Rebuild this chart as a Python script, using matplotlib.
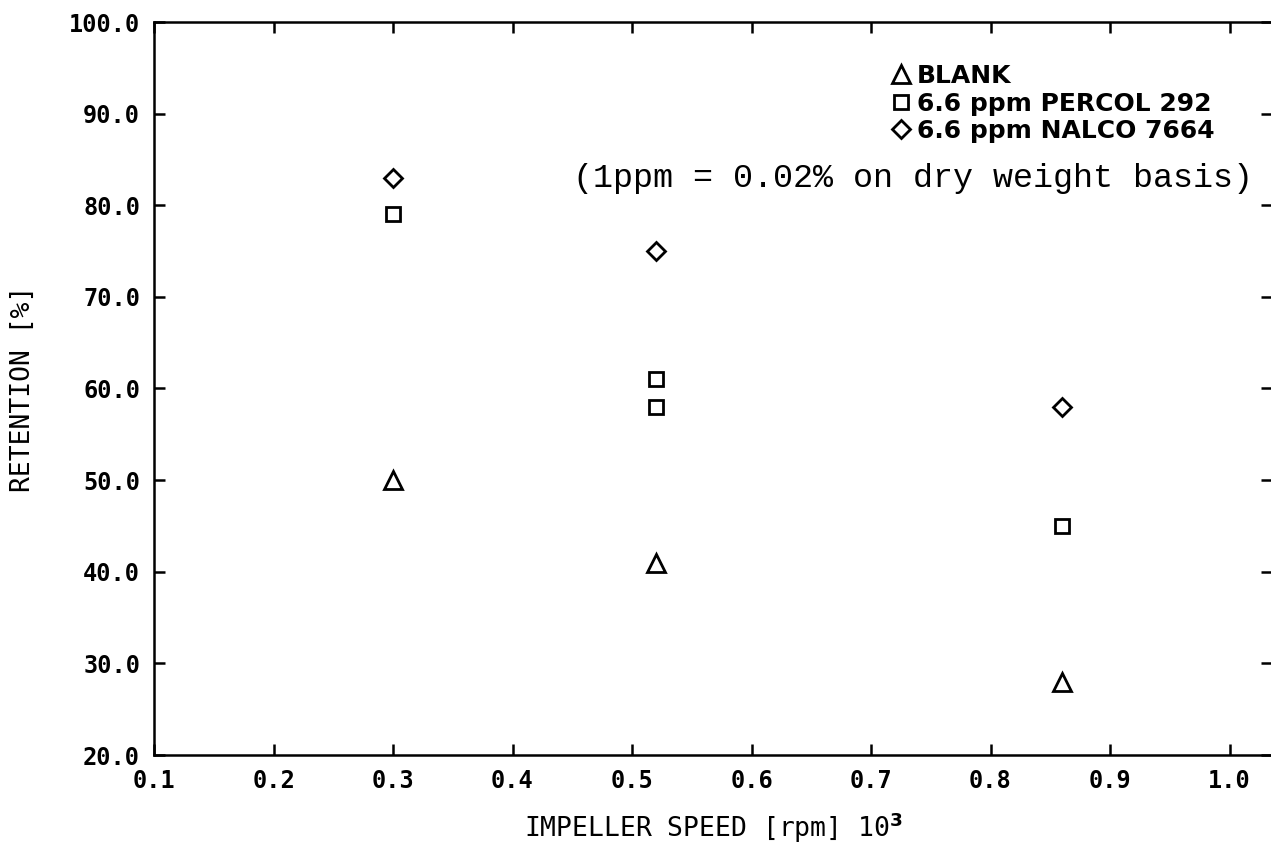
import numpy as np
import matplotlib.pyplot as plt

# data
speed_blank = [0.30, 0.52, 0.86]
ret_blank = [50.0, 41.0, 28.0]

speed_percol = [0.30, 0.52, 0.52, 0.86]
ret_percol = [79.0, 61.0, 58.0, 45.0]

speed_nalco = [0.30, 0.52, 0.86]
ret_nalco = [83.0, 75.0, 58.0]

labels = ['BLANK', '6.6 ppm PERCOL 292', '6.6 ppm NALCO 7664']
xticks = np.arange(0.1, 1.01, 0.1)
yticks = np.arange(20, 101, 10)

W, H = 1271, 847
fig = plt.figure(figsize=(W / 100, H / 100), dpi=100)
ax = fig.add_axes((154 / W, 92 / H, (1272 - 154) / W, (825 - 92) / H))

mk = dict(linestyle='none', mfc='none', mec='k', mew=2.0)
ax.plot(speed_blank, ret_blank, marker='^', ms=12.5, label=labels[0], **mk)
ax.plot(speed_percol, ret_percol, marker='s', ms=10, label=labels[1], **mk)
ax.plot(speed_nalco, ret_nalco, marker='D', ms=9.5, label=labels[2], **mk)

ax.set_xlim(0.1, 0.1 + (1272 - 154) / 1195)
ax.set_ylim(20, 100)
ax.set_xticks(xticks)
ax.set_yticks(yticks)
ax.set_xticklabels([f'{v:.1f}' for v in xticks])
ax.set_yticklabels([f'{v:.1f}' for v in yticks])

for lab in ax.get_xticklabels() + ax.get_yticklabels():
    lab.set_family('DejaVu Sans Mono')
    lab.set_fontweight('bold')
    lab.set_fontsize(17)

ax.tick_params(direction='in', length=8, width=1.8, top=True, right=True,
               pad=10)
ax.tick_params(axis='y', right=True, length=3)
ax.tick_params(axis='y', left=True, length=8)
for s in ax.spines.values():
    s.set_linewidth(1.8)

ax.set_xlabel('IMPELLER SPEED [rpm] 10$^\\mathbf{3}$', family='DejaVu Sans Mono',
              fontsize=19, labelpad=13)
ax.set_ylabel('RETENTION [%]', family='DejaVu Sans Mono', fontsize=19,
              labelpad=24)

leg = ax.legend(loc='upper left', bbox_to_anchor=(893 / W, 1 - 64 / H),
                bbox_transform=fig.transFigure, frameon=False,
                prop=dict(family='DejaVu Sans', weight='bold', size=18),
                handlelength=0.6, handletextpad=0.35, labelspacing=0.14,
                borderpad=0, borderaxespad=0)

fig.text(573 / W, 1 - 179 / H, '(1ppm = 0.02% on dry weight basis)',
         family='Liberation Mono', fontsize=24, va='center', ha='left')

fig.savefig('out.png', dpi=100)
